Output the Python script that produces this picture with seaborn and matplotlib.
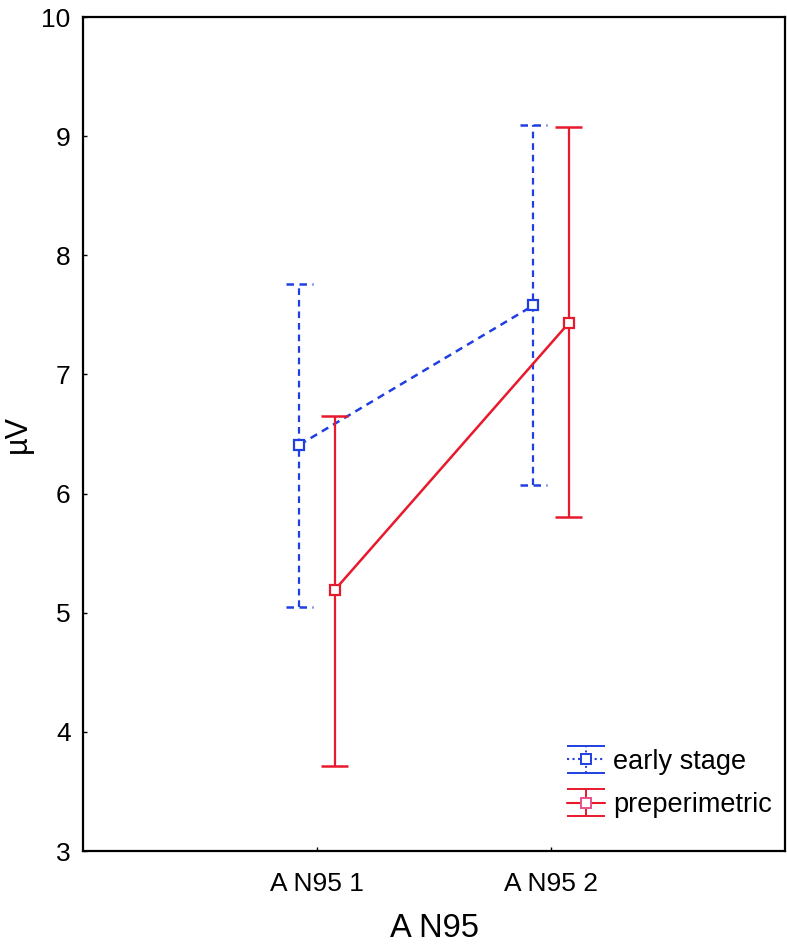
import numpy as np
import pandas as pd
import matplotlib
matplotlib.use("Agg")
import matplotlib.pyplot as plt
import seaborn as sns

# 数据
categories = ["A N95 1", "A N95 2"]
groups = ["early stage", "preperimetric"]
early_mean = [6.41, 7.58]
early_low = [5.05, 6.07]
early_high = [7.76, 9.09]
pre_mean = [5.19, 7.43]
pre_low = [3.71, 5.80]
pre_high = [6.65, 9.08]

colors = {"early stage": "#1f3fe0", "preperimetric": "#e8192c"}
dashed = {"early stage": True, "preperimetric": False}
offsets = {"early stage": -0.075, "preperimetric": 0.075}

sns.set_style("white")
plt.rcParams["font.family"] = ["Liberation Sans", "DejaVu Sans"]
for k in ["text.color", "axes.labelcolor", "xtick.color", "ytick.color"]:
    plt.rcParams[k] = "black"

df = pd.DataFrame({
    "cat": categories * 2,
    "group": [groups[0]] * 2 + [groups[1]] * 2,
    "mean": early_mean + pre_mean,
    "low": early_low + pre_low,
    "high": early_high + pre_high,
})
df["x"] = df["cat"].map({c: i for i, c in enumerate(categories)}) + df["group"].map(offsets)

fig = plt.figure(figsize=(7.87, 9.48), dpi=100)
ax = fig.add_axes([0.1055, 0.1023, 0.892, 0.8797])

dash = (0, (3, 2.2))
handles = []
for g in groups:
    sub = df[df["group"] == g]
    ls = dash if dashed[g] else "-"
    # 连线
    sns.lineplot(data=sub, x="x", y="mean", ax=ax, color=colors[g],
                 linewidth=1.8, legend=False, estimator=None, sort=False)
    ax.lines[-1].set_linestyle(ls)
    # 误差线
    ax.vlines(sub["x"], sub["low"], sub["high"], colors=colors[g],
              linewidth=1.6, linestyles=[ls])
    ax.hlines(pd.concat([sub["low"], sub["high"]]),
              pd.concat([sub["x"], sub["x"]]) - 0.056,
              pd.concat([sub["x"], sub["x"]]) + 0.056,
              colors=colors[g], linewidth=1.8, linestyles=[ls])
    ax.plot(sub["x"], sub["mean"], "s", ms=7.5, mfc="white",
            mec=colors[g], mew=1.6, zorder=5)
    # 图例句柄
    eb = ax.errorbar([np.nan], [np.nan], yerr=[[np.nan], [np.nan]], fmt="s",
                     ls=":" if dashed[g] else "-", ms=7, mfc="white",
                     mec=colors[g] if dashed[g] else "#e8508a", mew=1.4,
                     color=colors[g], ecolor=colors[g], elinewidth=1.4,
                     capsize=14, capthick=1.4 if dashed[g] else 2.0)
    if dashed[g]:
        eb.lines[2][0].set_linestyle(":")
    handles.append(eb)

ax.set_xlim(-1, 2)
ax.set_ylim(3, 10)
ax.set_xticks(range(len(categories)))
ax.set_xticklabels(categories)
ax.set_yticks(range(3, 11))
ax.set_xlabel("A N95", fontsize=23.5, labelpad=12)
ax.set_ylabel("µV", fontsize=22)
ax.yaxis.set_label_coords(-0.072, 0.5)
ax.tick_params(axis="both", direction="in", length=3, width=1, labelsize=19,
               pad=9, left=True, bottom=True)
ax.tick_params(axis="x", pad=15)
for s in ax.spines.values():
    s.set_color("black")
    s.set_linewidth(1.6)

ax.legend(handles=handles, labels=groups, loc="lower right", frameon=False,
          fontsize=19.5, handlelength=1.4, handletextpad=0.3, labelspacing=0.65,
          borderaxespad=0.1, bbox_to_anchor=(1.0, 0.023))

fig.savefig("out.png", dpi=100)
